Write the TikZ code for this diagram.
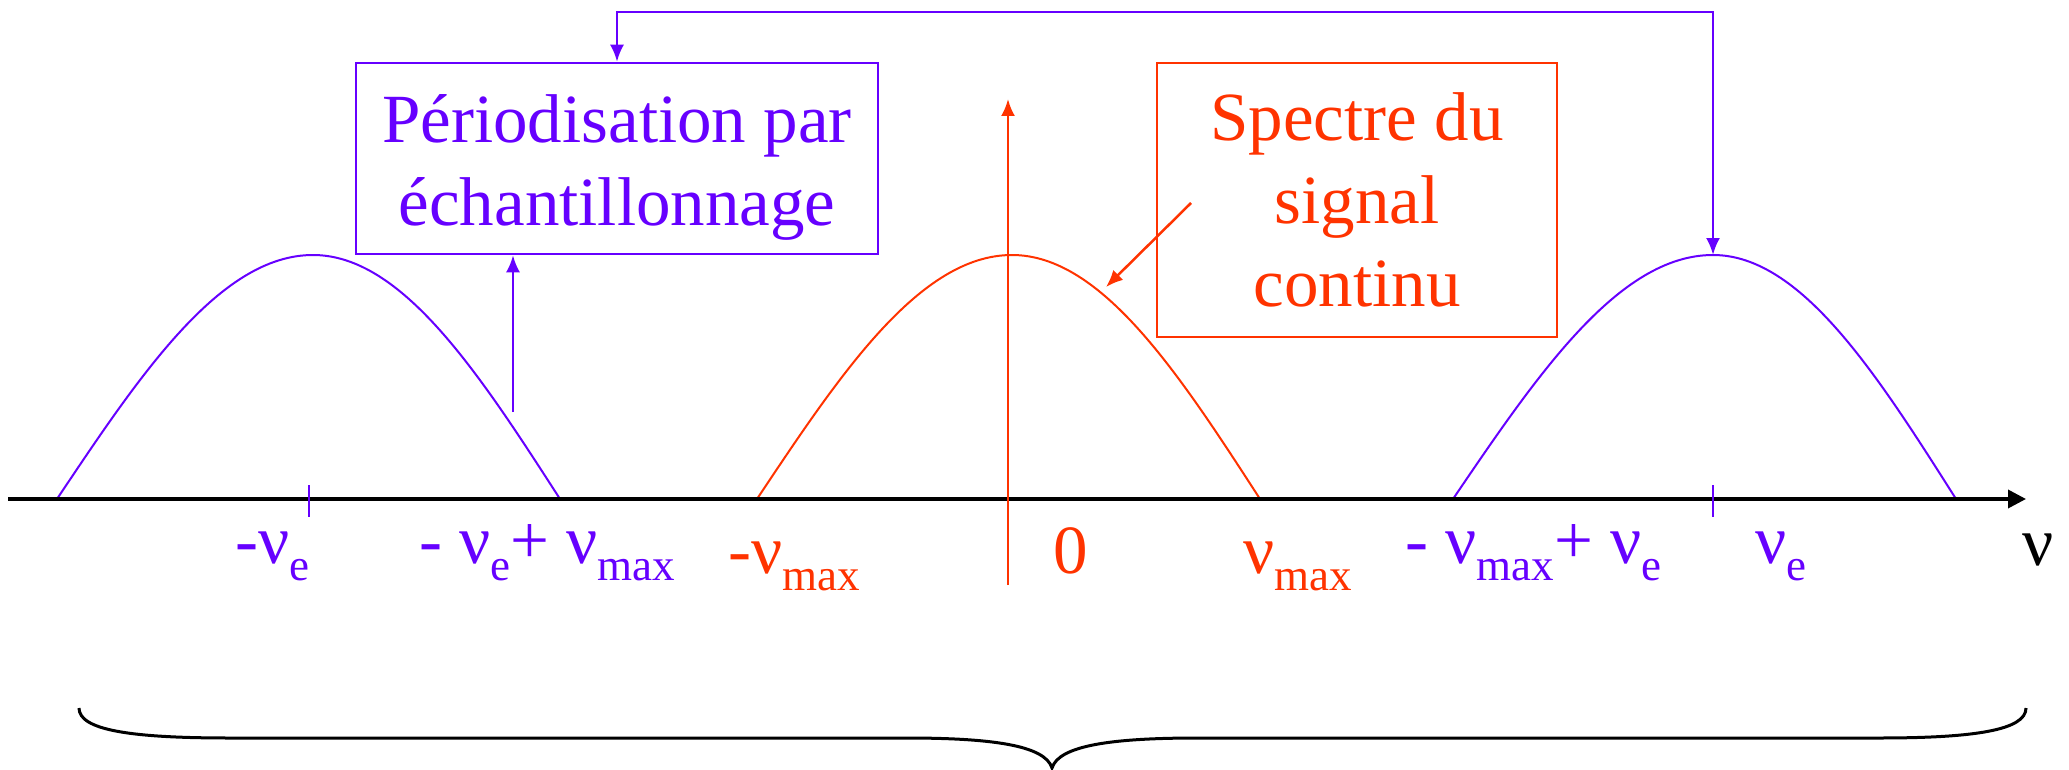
\documentclass[tikz,border=0pt]{standalone}
\usepackage{fontspec}
\setmainfont{Liberation Serif}
\usetikzlibrary{arrows.meta}
\definecolor{vio}{RGB}{102,0,255}
\definecolor{rouge}{RGB}{255,51,0}
\newcommand\lsub[1]{\raisebox{-17pt}{\fontsize{45}{45}\selectfont #1}}
\begin{document}
\begin{tikzpicture}[x=1pt,y=-1pt,
  lbl/.style={inner sep=0pt, anchor=base west, font=\fontsize{69}{83}\selectfont},
  bump/.style={line width=2pt},
  boxed/.style={draw, line width=2.5pt, inner sep=0pt, align=center, font=\fontsize{69}{83}\selectfont},
  arr/.style={-{Latex[length=17pt,width=14pt]}, line width=2.5pt},
  tick/.style={line width=2pt}]
\useasboundingbox (0,0) rectangle (2069,770);
% coordinates
\coordinate (axL) at (8,499);
\coordinate (axR) at (2026,499);
\coordinate (peakR) at (1713,255);
\coordinate (topR) at (1713,12);
\coordinate (zb) at (1008,585);
\coordinate (zt) at (1008,99);
\coordinate (ub) at (513,412);
\coordinate (rs) at (1191,203);
\coordinate (re) at (1106,287);
% boxes
\node[boxed, vio, minimum width=522pt, minimum height=191pt] (perio) at (617,158.5) {\rule{0pt}{66pt}Périodisation par\\échantillonnage};
\node[boxed, rouge, minimum width=400pt, minimum height=274pt] (spec) at (1357,200) {Spectre du\\signal\\continu};
% bumps
\draw[bump, vio] (57,499) sin (313,255) cos (560,499);
\draw[bump, rouge] (757,499) sin (1012,255) cos (1260,499);
\draw[bump, vio] (1453,499) sin (peakR) cos (1956,499);
% axis
\draw[line width=3.5pt, -{Triangle[length=18pt,width=18pt]}] (axL) -- (axR);
% ticks
\draw[tick, vio] (309,485) -- (309,517);
\draw[tick, vio] (1713,485) -- (1713,517);
% arrows
\draw[arr, rouge] (zb) -- (zt);
\draw[arr, rouge] (rs) -- (re);
\draw[arr, vio] (ub) -- (ub |- perio.south);
\draw[line width=2.5pt, vio, {Latex[length=17pt,width=14pt]}-{Latex[length=17pt,width=14pt]}] (perio.north) |- (topR) -- (peakR);
% labels
\node[lbl, vio] (l1) at (235,563) {-ν\lsub{e}};
\node[lbl, vio] (l2) at (419,563) {- ν\lsub{e}+ ν\lsub{max}};
\node[lbl, rouge] (l3) at (728,573) {-ν\lsub{max}};
\node[lbl, rouge] (l4) at (1053,573) {0};
\node[lbl, rouge] (l5) at (1243,573) {ν\lsub{max}};
\node[lbl, vio] (l6) at (1405,563) {- ν\lsub{max}+ ν\lsub{e}};
\node[lbl, vio] (l7) at (1755,563) {ν\lsub{e}};
\node[lbl] (l8) at (2022,565) {ν};
% brace
\draw[line width=3pt] (79,708) .. controls (79,730) and (130,738) .. (230,738) -- (906,738) .. controls (990,738) and (1045,745) .. (1052,768) .. controls (1059,745) and (1114,738) .. (1198,738) -- (1879,738) .. controls (1975,738) and (2026,730) .. (2026,708);
\end{tikzpicture}
\end{document}
